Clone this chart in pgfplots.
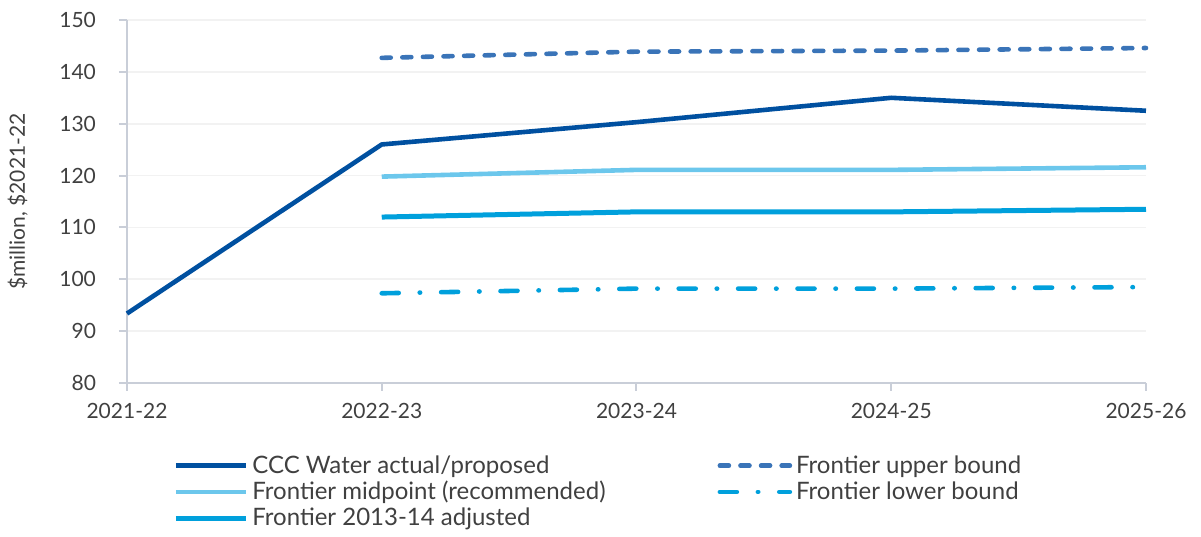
\documentclass[border=0pt]{standalone}
\usepackage{pgfplots}
\pgfplotsset{compat=1.18}
\usepackage{fontspec}
\setmainfont{Lato}

\definecolor{cccblue}{HTML}{0050A0}
\definecolor{upperblue}{HTML}{3A74B8}
\definecolor{midblue}{HTML}{6CC7EC}
\definecolor{adjblue}{HTML}{00A0DC}
\definecolor{lowblue}{HTML}{00A0DC}
\definecolor{axisgrey}{HTML}{C9CED8}
\definecolor{gridgrey}{HTML}{F2F2F2}
\definecolor{labelgrey}{HTML}{404040}

\begin{document}
\begin{tikzpicture}
\begin{axis}[
  at={(0,0)}, anchor=origin,
  scale only axis,
  width=509.5pt, height=181.5pt,
  xmin=0, xmax=4, ymin=80, ymax=150,
  xtick={0,1,2,3,4},
  xticklabels={2021-22,2022-23,2023-24,2024-25,2025-26},
  ytick={80,90,...,150},
  axis x line*=bottom, axis y line*=left,
  axis line style={axisgrey, line width=1pt},
  every outer x axis line/.append style={-},
  every outer y axis line/.append style={-},
  tick style={axisgrey, line width=1pt},
  tick align=outside,
  major tick length=4pt,
  ymajorgrids,
  grid style={gridgrey, line width=0.8pt},
  ticklabel style={font=\fontsize{10.5}{12}\selectfont, text=labelgrey},
  xticklabel style={yshift=-2.5pt},
  yticklabel style={xshift=-8pt},
  /pgf/number format/assume math mode=true,
  ylabel={\$million, \$2021-22},
  ylabel style={font=\fontsize{10.5}{12}\selectfont, text=labelgrey, yshift=9pt},
  legend columns=2,
  legend cell align=left,
  legend style={
    draw=none, fill=none,
    at={(20pt,-32pt)}, anchor=north west,
    font=\fontsize{12}{13}\selectfont, text=labelgrey,
    row sep=-1.5pt,
    /tikz/every even column/.append style={column sep=54pt},
  },
  legend image code/.code={\draw[#1] (0pt,0pt) -- (35pt,0pt);},
  clip=false,
]
% CCC Water actual and proposed expenditure
\addplot[cccblue, line width=2.3pt, line join=round] coordinates {
  (0,93.4) (1,126.0) (2,130.3) (3,135.0) (4,132.5)};
\addlegendentry{CCC Water actual/proposed}
% Frontier upper bound
\addplot[upperblue, line width=2.3pt, line cap=round,
  dash pattern=on 4.5pt off 5.8pt] coordinates {
  (1,142.7) (2,143.9) (3,144.1) (4,144.6)};
\addlegendentry{Frontier upper bound}
% Frontier midpoint
\addplot[midblue, line width=2.3pt] coordinates {
  (1,119.8) (2,121.1) (3,121.1) (4,121.6)};
\addlegendentry{Frontier midpoint (recommended)}
% Frontier lower bound
\addplot[lowblue, line width=2.3pt, line cap=round,
  dash pattern=on 8.5pt off 10.5pt on 0.2pt off 10.5pt] coordinates {
  (1,97.3) (2,98.2) (3,98.2) (4,98.5)};
\addlegendentry{Frontier lower bound}
% Frontier 2013-14 adjusted
\addplot[adjblue, line width=2.5pt] coordinates {
  (1,112.0) (2,113.0) (3,113.0) (4,113.5)};
\addlegendentry{Frontier 2013-14 adjusted}
\end{axis}
\path[use as bounding box] (-63.5pt,-73.5pt) rectangle (537pt,191.5pt);
\end{tikzpicture}
\end{document}
